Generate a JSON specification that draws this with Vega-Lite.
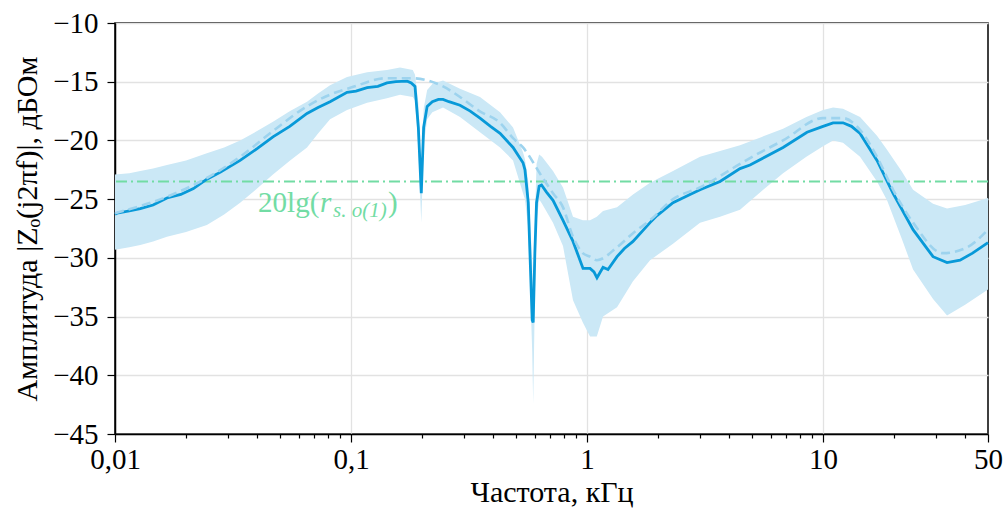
{
  "$schema": "https://vega.github.io/schema/vega-lite/v6.json",
  "width": 873,
  "height": 411,
  "autosize": {"type": "none"},
  "padding": {"left": 115, "top": 23, "right": 18, "bottom": 77},
  "background": "white",
  "config": {
    "font": "Liberation Serif",
    "view": {"stroke": "#000000", "strokeWidth": 1.5},
    "axis": {
      "labelFont": "Liberation Serif",
      "titleFont": "Liberation Serif",
      "labelFontSize": 29,
      "titleFontSize": 30,
      "titleFontWeight": "normal",
      "labelColor": "#000000",
      "titleColor": "#000000",
      "domainColor": "#000000",
      "domainWidth": 1.5,
      "tickColor": "#000000",
      "tickWidth": 1.2,
      "gridColor": "#e2e2e2",
      "gridWidth": 1.3
    }
  },
  "datasets": {
    "band": [
      {"f": 0.01, "lo": -29.3, "hi": -22.9},
      {"f": 0.0115, "lo": -29.1, "hi": -22.8},
      {"f": 0.0128, "lo": -28.9, "hi": -22.6},
      {"f": 0.0145, "lo": -28.6, "hi": -22.4},
      {"f": 0.0166, "lo": -28.2, "hi": -22.1},
      {"f": 0.02, "lo": -27.8, "hi": -21.7},
      {"f": 0.0245, "lo": -27.2, "hi": -21.1},
      {"f": 0.029, "lo": -26.3, "hi": -20.6},
      {"f": 0.0339, "lo": -25.3, "hi": -20.0},
      {"f": 0.04, "lo": -24.1, "hi": -19.2},
      {"f": 0.0467, "lo": -22.9, "hi": -18.4},
      {"f": 0.0552, "lo": -21.7, "hi": -17.5},
      {"f": 0.0651, "lo": -20.6, "hi": -16.7},
      {"f": 0.0725, "lo": -19.4, "hi": -16.0},
      {"f": 0.0815, "lo": -18.2, "hi": -15.3},
      {"f": 0.0962, "lo": -17.4, "hi": -14.6},
      {"f": 0.117, "lo": -16.8, "hi": -14.2},
      {"f": 0.142, "lo": -16.4, "hi": -14.0},
      {"f": 0.1613, "lo": -16.1, "hi": -13.8},
      {"f": 0.1827, "lo": -16.3, "hi": -14.0},
      {"f": 0.1867, "lo": -16.6, "hi": -14.4},
      {"f": 0.1929, "lo": -20.8, "hi": -16.8},
      {"f": 0.1985, "lo": -27.0, "hi": -22.5},
      {"f": 0.2031, "lo": -20.5, "hi": -17.3},
      {"f": 0.2102, "lo": -18.2, "hi": -15.7},
      {"f": 0.2211, "lo": -17.6, "hi": -15.2},
      {"f": 0.2454, "lo": -17.2, "hi": -14.9},
      {"f": 0.2896, "lo": -18.0, "hi": -15.6},
      {"f": 0.352, "lo": -19.3, "hi": -16.3},
      {"f": 0.428, "lo": -20.6, "hi": -17.6},
      {"f": 0.4859, "lo": -21.7, "hi": -18.9},
      {"f": 0.5355, "lo": -24.5, "hi": -21.0},
      {"f": 0.5458, "lo": -25.0, "hi": -21.6},
      {"f": 0.5637, "lo": -27.5, "hi": -23.5},
      {"f": 0.5858, "lo": -38.0, "hi": -30.5},
      {"f": 0.5914, "lo": -42.4, "hi": -33.5},
      {"f": 0.6011, "lo": -33.5, "hi": -27.0},
      {"f": 0.6111, "lo": -27.0, "hi": -22.0},
      {"f": 0.6267, "lo": -25.0, "hi": -21.2},
      {"f": 0.6447, "lo": -25.4, "hi": -21.4},
      {"f": 0.7176, "lo": -27.0, "hi": -22.6},
      {"f": 0.7911, "lo": -29.0, "hi": -24.0},
      {"f": 0.8722, "lo": -33.6, "hi": -26.5},
      {"f": 0.96, "lo": -35.5, "hi": -26.8},
      {"f": 1.03, "lo": -36.7, "hi": -26.8},
      {"f": 1.1, "lo": -36.7, "hi": -26.5},
      {"f": 1.169, "lo": -35.0, "hi": -26.0},
      {"f": 1.34, "lo": -34.2, "hi": -25.7},
      {"f": 1.566, "lo": -32.0, "hi": -24.6},
      {"f": 1.849, "lo": -30.2, "hi": -23.6},
      {"f": 2.314, "lo": -28.8, "hi": -22.6},
      {"f": 3.012, "lo": -27.0, "hi": -21.4},
      {"f": 3.661, "lo": -26.5, "hi": -20.9},
      {"f": 4.449, "lo": -25.9, "hi": -20.4},
      {"f": 5.5, "lo": -24.3, "hi": -19.7},
      {"f": 6.77, "lo": -22.8, "hi": -19.0},
      {"f": 8.5, "lo": -21.4, "hi": -18.0},
      {"f": 10, "lo": -20.5, "hi": -17.4},
      {"f": 11.03, "lo": -20.0, "hi": -17.2},
      {"f": 12.15, "lo": -20.2, "hi": -17.3},
      {"f": 14.35, "lo": -21.4, "hi": -18.0},
      {"f": 16.93, "lo": -23.5, "hi": -19.6},
      {"f": 18.67, "lo": -25.1, "hi": -20.8},
      {"f": 21.5, "lo": -28.3, "hi": -22.6},
      {"f": 24.07, "lo": -31.0, "hi": -24.2},
      {"f": 29.25, "lo": -33.5, "hi": -25.4},
      {"f": 33.53, "lo": -34.9, "hi": -25.8},
      {"f": 40, "lo": -34.0, "hi": -25.5},
      {"f": 50, "lo": -32.7, "hi": -24.9}
    ],
    "mean": [
      {"f": 0.01, "v": -26.2},
      {"f": 0.0166, "v": -24.8},
      {"f": 0.0245, "v": -23.2},
      {"f": 0.0339, "v": -21.4},
      {"f": 0.0467, "v": -19.2},
      {"f": 0.0651, "v": -17.1},
      {"f": 0.0815, "v": -16.1},
      {"f": 0.1, "v": -15.5},
      {"f": 0.142, "v": -14.7},
      {"f": 0.18, "v": -14.7},
      {"f": 0.2454, "v": -15.4},
      {"f": 0.2896, "v": -16.3},
      {"f": 0.35, "v": -17.5},
      {"f": 0.428, "v": -18.5},
      {"f": 0.4859, "v": -19.8},
      {"f": 0.5355, "v": -20.6},
      {"f": 0.6447, "v": -23.1},
      {"f": 0.7176, "v": -24.5},
      {"f": 0.7911, "v": -25.7},
      {"f": 0.8722, "v": -28.2},
      {"f": 0.96, "v": -29.6},
      {"f": 1.03, "v": -29.9},
      {"f": 1.1, "v": -30.2},
      {"f": 1.34, "v": -29.1},
      {"f": 1.566, "v": -27.9},
      {"f": 1.849, "v": -26.8},
      {"f": 2.314, "v": -25.0},
      {"f": 3.012, "v": -24.0},
      {"f": 4.449, "v": -22.0},
      {"f": 4.906, "v": -21.5},
      {"f": 6.77, "v": -20.0},
      {"f": 10, "v": -18.1},
      {"f": 12.15, "v": -18.1},
      {"f": 14.35, "v": -19.1},
      {"f": 16.93, "v": -21.4},
      {"f": 19.8, "v": -24.2},
      {"f": 24.07, "v": -27.0},
      {"f": 32.25, "v": -29.6},
      {"f": 40.75, "v": -29.1},
      {"f": 50, "v": -27.6}
    ],
    "main": [
      {"f": 0.01, "v": -26.3},
      {"f": 0.0102, "v": -26.2},
      {"f": 0.0115, "v": -26.0},
      {"f": 0.0128, "v": -25.8},
      {"f": 0.0145, "v": -25.5},
      {"f": 0.0166, "v": -24.9},
      {"f": 0.019, "v": -24.6},
      {"f": 0.0215, "v": -24.1},
      {"f": 0.0245, "v": -23.3},
      {"f": 0.028, "v": -22.7},
      {"f": 0.0339, "v": -21.7},
      {"f": 0.04, "v": -20.7},
      {"f": 0.0467, "v": -19.7},
      {"f": 0.055, "v": -18.8},
      {"f": 0.0651, "v": -17.7},
      {"f": 0.0725, "v": -17.2},
      {"f": 0.0815, "v": -16.7},
      {"f": 0.0962, "v": -15.9},
      {"f": 0.105, "v": -15.8},
      {"f": 0.117, "v": -15.5},
      {"f": 0.13, "v": -15.4},
      {"f": 0.142, "v": -15.1},
      {"f": 0.155, "v": -15.0},
      {"f": 0.173, "v": -14.95},
      {"f": 0.18, "v": -15.1},
      {"f": 0.1867, "v": -15.4},
      {"f": 0.1929, "v": -18.9},
      {"f": 0.1985, "v": -24.5},
      {"f": 0.2031, "v": -18.9},
      {"f": 0.2102, "v": -17.1},
      {"f": 0.2211, "v": -16.7},
      {"f": 0.2346, "v": -16.5},
      {"f": 0.2454, "v": -16.5},
      {"f": 0.26, "v": -16.7},
      {"f": 0.2896, "v": -17.0},
      {"f": 0.32, "v": -17.5},
      {"f": 0.352, "v": -18.1},
      {"f": 0.39, "v": -18.8},
      {"f": 0.428, "v": -19.4},
      {"f": 0.4859, "v": -20.6},
      {"f": 0.5355, "v": -21.9},
      {"f": 0.5458, "v": -22.5},
      {"f": 0.5637, "v": -25.3},
      {"f": 0.5858, "v": -35.3},
      {"f": 0.5914, "v": -35.5},
      {"f": 0.6011, "v": -29.6},
      {"f": 0.6111, "v": -25.3},
      {"f": 0.6267, "v": -23.9},
      {"f": 0.6416, "v": -23.8},
      {"f": 0.6733, "v": -24.4},
      {"f": 0.7176, "v": -25.1},
      {"f": 0.7911, "v": -26.8},
      {"f": 0.8722, "v": -28.6},
      {"f": 0.9618, "v": -30.9},
      {"f": 1.03, "v": -30.9},
      {"f": 1.07, "v": -31.2},
      {"f": 1.102, "v": -31.7},
      {"f": 1.169, "v": -30.8},
      {"f": 1.227, "v": -31.0},
      {"f": 1.34, "v": -29.9},
      {"f": 1.44, "v": -29.2},
      {"f": 1.566, "v": -28.6},
      {"f": 1.849, "v": -27.0},
      {"f": 1.98, "v": -26.4},
      {"f": 2.314, "v": -25.3},
      {"f": 2.732, "v": -24.6},
      {"f": 3.012, "v": -24.2},
      {"f": 3.661, "v": -23.5},
      {"f": 4.449, "v": -22.4},
      {"f": 4.906, "v": -22.1},
      {"f": 6.77, "v": -20.6},
      {"f": 8.553, "v": -19.3},
      {"f": 10, "v": -18.8},
      {"f": 11.03, "v": -18.5},
      {"f": 12.15, "v": -18.5},
      {"f": 13.2, "v": -18.8},
      {"f": 14.35, "v": -19.4},
      {"f": 16.93, "v": -21.7},
      {"f": 19.8, "v": -24.5},
      {"f": 24.07, "v": -27.6},
      {"f": 29.25, "v": -29.9},
      {"f": 33.53, "v": -30.4},
      {"f": 38.07, "v": -30.2},
      {"f": 43, "v": -29.6},
      {"f": 50, "v": -28.7}
    ],
    "anchor": [{"f": 0.0404, "v": -26.1, "level": -23.5}]
  },
  "layer": [
    {
      "data": {"name": "band"},
      "mark": {"type": "area", "color": "#cbe8f6", "opacity": 1},
      "encoding": {
        "x": {
          "field": "f",
          "type": "quantitative",
          "scale": {"type": "log", "domain": [0.01, 50], "nice": false},
          "axis": {
            "title": "Частота, кГц",
            "values": [0.01, 0.02, 0.03, 0.04, 0.05, 0.06, 0.07, 0.08, 0.09, 0.1, 0.2, 0.3, 0.4, 0.5, 0.6, 0.7, 0.8, 0.9, 1, 2, 3, 4, 5, 6, 7, 8, 9, 10, 20, 30, 40, 50],
            "labelExpr": "datum.value == 0.01 ? '0,01' : datum.value == 0.1 ? '0,1' : datum.value == 1 ? '1' : datum.value == 10 ? '10' : datum.value == 50 ? '50' : ''",
            "labelOverlap": false,
            "labelFlush": false,
            "labelPadding": 3,
            "tickSize": {"condition": {"test": "indexof([0.01, 0.1, 1, 10, 50], datum.value) >= 0", "value": 8}, "value": 4},
            "gridOpacity": {"condition": {"test": "indexof([0.1, 1, 10], datum.value) >= 0", "value": 1}, "value": 0},
            "grid": true,
            "titlePadding": 3
          }
        },
        "y": {
          "field": "lo",
          "type": "quantitative",
          "scale": {"domain": [-45, -10], "nice": false},
          "axis": {
            "title": "Амплитуда |Zₒ(j2πf)|, дБОм",
            "values": [-45, -40, -35, -30, -25, -20, -15, -10],
            "tickSize": 8,
            "labelPadding": 9,
            "grid": true,
            "titlePadding": 10
          }
        },
        "y2": {"field": "hi"}
      }
    },
    {
      "data": {"name": "anchor"},
      "mark": {"type": "rule", "color": "#72dca4", "strokeWidth": 2, "strokeDash": [11, 4, 2, 4]},
      "encoding": {"y": {"field": "level", "type": "quantitative"}}
    },
    {
      "data": {"name": "main"},
      "mark": {"type": "line", "color": "#0899d8", "strokeWidth": 2.8, "interpolate": "linear"},
      "encoding": {
        "x": {"field": "f", "type": "quantitative"},
        "y": {"field": "v", "type": "quantitative"}
      }
    },
    {
      "data": {"name": "mean"},
      "mark": {"type": "line", "color": "#9dd3ee", "strokeWidth": 2.6, "strokeDash": [9, 5], "interpolate": "monotone"},
      "encoding": {
        "x": {"field": "f", "type": "quantitative"},
        "y": {"field": "v", "type": "quantitative"}
      }
    },
    {
      "data": {"name": "anchor"},
      "mark": {"type": "text", "text": "20lg(", "font": "Liberation Serif", "fontSize": 29, "color": "#72dca4", "align": "left", "baseline": "alphabetic"},
      "encoding": {"x": {"field": "f", "type": "quantitative"}, "y": {"field": "v", "type": "quantitative"}}
    },
    {
      "data": {"name": "anchor"},
      "mark": {"type": "text", "text": "r", "font": "Liberation Serif", "fontStyle": "italic", "fontSize": 29, "color": "#72dca4", "align": "left", "baseline": "alphabetic", "dx": 62},
      "encoding": {"x": {"field": "f", "type": "quantitative"}, "y": {"field": "v", "type": "quantitative"}}
    },
    {
      "data": {"name": "anchor"},
      "mark": {"type": "text", "text": "s. o(1)", "font": "Liberation Serif", "fontStyle": "italic", "fontSize": 21, "color": "#72dca4", "align": "left", "baseline": "alphabetic", "dx": 75, "dy": 5},
      "encoding": {"x": {"field": "f", "type": "quantitative"}, "y": {"field": "v", "type": "quantitative"}}
    },
    {
      "data": {"name": "anchor"},
      "mark": {"type": "text", "text": ")", "font": "Liberation Serif", "fontSize": 29, "color": "#72dca4", "align": "left", "baseline": "alphabetic", "dx": 130},
      "encoding": {"x": {"field": "f", "type": "quantitative"}, "y": {"field": "v", "type": "quantitative"}}
    }
  ]
}
